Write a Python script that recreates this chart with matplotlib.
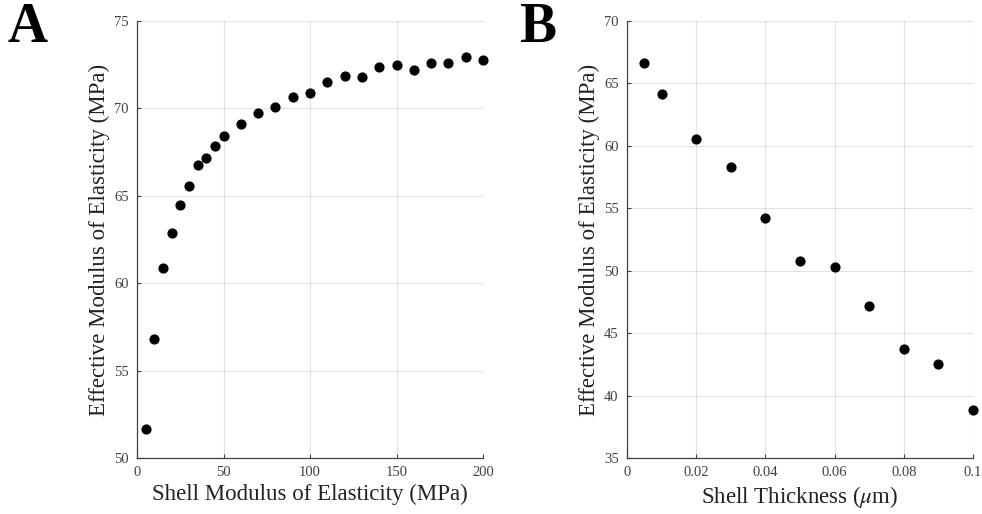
import matplotlib
matplotlib.use("Agg")
import matplotlib.pyplot as plt

# Panel A: shell modulus sweep
modulo_cascara = [5, 10, 15, 20, 25, 30, 35, 40, 45, 50,
                  60, 70, 80, 90, 100, 110, 120, 130, 140, 150,
                  160, 170, 180, 190, 200]
modulo_efectivo_a = [51.66, 56.81, 60.86, 62.88, 64.49, 65.55, 66.77, 67.19, 67.87, 68.44,
                     69.11, 69.73, 70.06, 70.68, 70.86, 71.52, 71.84, 71.81, 72.34, 72.47,
                     72.22, 72.60, 72.62, 72.95, 72.79]

# Panel B: shell thickness sweep
espesor = [0.005, 0.01, 0.02, 0.03, 0.04, 0.05, 0.06, 0.07, 0.08, 0.09, 0.1]
modulo_efectivo_b = [66.64, 64.16, 60.58, 58.31, 54.25, 50.80, 50.29, 47.19, 43.74, 42.49, 38.86]

ticks_xa = [0, 50, 100, 150, 200]
ticks_ya = [50, 55, 60, 65, 70, 75]
ticks_xb = [0, 0.02, 0.04, 0.06, 0.08, 0.1]
ticks_yb = [35, 40, 45, 50, 55, 60, 65, 70]

plt.rcParams["font.family"] = ["Liberation Serif", "DejaVu Serif"]
plt.rcParams["mathtext.fontset"] = "stix"

W, H = 982, 514
fig = plt.figure(figsize=(W / 100, H / 100), dpi=100)

def ejes(x0, x1, y0, y1):
    return fig.add_axes([x0 / W, 1 - y1 / H, (x1 - x0) / W, (y1 - y0) / H])

ax_a = ejes(137, 483, 21, 458)
ax_b = ejes(627, 973, 21, 458)

def estilo(ax, xt, yt, etiqueta_x, xfmt=None):
    ax.set_xticks(xt)
    ax.set_yticks(yt)
    ax.set_xlim(xt[0], xt[-1])
    ax.set_ylim(yt[0], yt[-1])
    if xfmt is not None:
        ax.set_xticklabels(xfmt)
    ax.grid(True, color="#262626", alpha=0.13, linewidth=0.8)
    ax.set_axisbelow(True)
    for lado in ["top", "right"]:
        ax.spines[lado].set_visible(False)
    for lado in ["left", "bottom"]:
        ax.spines[lado].set_color("#404040")
        ax.spines[lado].set_linewidth(0.9)
    ax.tick_params(direction="in", length=3, width=0.8, colors="#404040",
                   labelsize=10.5, labelcolor="#404040", pad=6)
    ax.set_xlabel(etiqueta_x, fontsize=16.5, color="#222222", labelpad=3)
    ax.set_ylabel("Effective Modulus of Elasticity (MPa)", fontsize=16.5,
                  color="#222222", labelpad=3)

estilo(ax_a, ticks_xa, ticks_ya, "Shell Modulus of Elasticity (MPa)")
ax_a.scatter(modulo_cascara, modulo_efectivo_a, s=40, color="black", zorder=3, clip_on=False)

estilo(ax_b, ticks_xb, ticks_yb, r"Shell Thickness ($\mu$m)",
       xfmt=["0", "0.02", "0.04", "0.06", "0.08", "0.1"])
ax_b.scatter(espesor, modulo_efectivo_b, s=40, color="black", zorder=3, clip_on=False)

# letras de los paneles
fig.text(7 / W, 1 - 2 / H, "A", fontsize=40, fontweight="bold", va="top", ha="left")
fig.text(519 / W, 1 - 2 / H, "B", fontsize=40, fontweight="bold", va="top", ha="left")

fig.savefig("out.png", dpi=100, facecolor="white")
